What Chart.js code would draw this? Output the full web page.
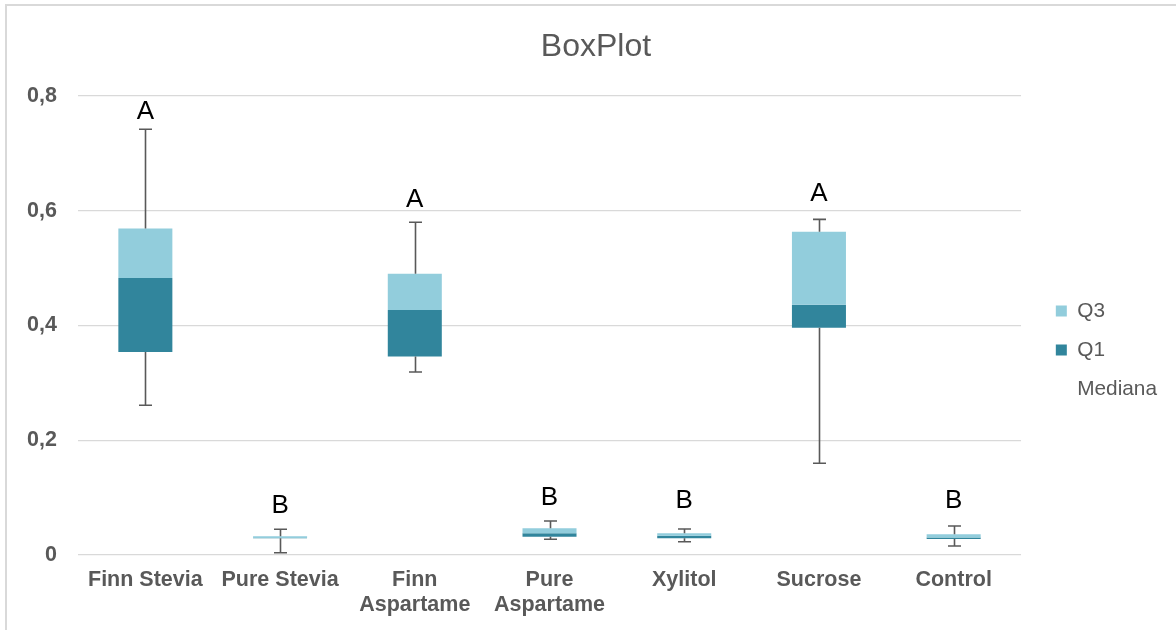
<!DOCTYPE html>
<html>
<head>
<meta charset="utf-8">
<script src="https://cdn.jsdelivr.net/npm/chart.js@4/dist/chart.umd.min.js"></script>
<style>
  html, body { margin: 0; padding: 0; background: #fff; }
  #wrap { width: 1176px; height: 630px; position: relative; }
</style>
</head>
<body>
<div id="wrap"><canvas id="c" width="1176" height="630"></canvas></div>
<script>
// ---- data ----
const categories = ['Finn Stevia', 'Pure Stevia', ['Finn', 'Aspartame'], ['Pure', 'Aspartame'], 'Xylitol', 'Sucrose', 'Control'];
const mins    = [0.261, 0.004, 0.319, 0.0274, 0.0232, 0.160, 0.0157];
const q1      = [0.354, 0.029, 0.346, 0.0319, 0.0290, 0.396, 0.0279];
const medians = [0.483, 0.0295, 0.427, 0.0378, 0.0336, 0.436, 0.0305];
const q3      = [0.569, 0.0325, 0.490, 0.0465, 0.0378, 0.5635, 0.0360];
const maxs    = [0.742, 0.0448, 0.580, 0.0593, 0.0453, 0.585, 0.0505];
const groupLetters = ['A', 'B', 'A', 'B', 'B', 'A', 'B'];
const letterValues = [0.760, 0.0727, 0.607, 0.0871, 0.0813, 0.6175, 0.0813];
const yTickLabels = ['0', '0,2', '0,4', '0,6', '0,8'];
const seriesNames = ['Q3', 'Q1', 'Mediana'];

const FONT = '"Liberation Sans", Arial, Helvetica, sans-serif';
const GREY = '#595959';
const LIGHT = '#92CDDC';
const DARK = '#31859C';

const borderPlugin = {
  id: 'outerBorder',
  beforeDraw(chart) {
    const ctx = chart.ctx;
    ctx.save();
    ctx.fillStyle = '#fff';
    ctx.fillRect(0, 0, chart.width, chart.height);
    ctx.strokeStyle = '#d9d9d9';
    ctx.lineWidth = 2;
    ctx.strokeRect(6, 5, chart.width + 40, chart.height + 40);
    ctx.restore();
  }
};

const whiskerPlugin = {
  id: 'whiskers',
  afterDatasetsDraw(chart) {
    const ctx = chart.ctx;
    const meta = chart.getDatasetMeta(1);
    const ys = chart.scales.y;
    ctx.save();
    ctx.strokeStyle = GREY;
    ctx.lineWidth = 1.6;
    const cap = 6.5;
    meta.data.forEach((bar, i) => {
      const x = Math.round(bar.x) + 0.5;
      const segs = [[q3[i], maxs[i]], [q1[i], mins[i]]];
      segs.forEach(([from, to]) => {
        const y0 = ys.getPixelForValue(from);
        const y1 = ys.getPixelForValue(to);
        ctx.beginPath();
        ctx.moveTo(x, y0);
        ctx.lineTo(x, y1);
        ctx.moveTo(x - cap, y1);
        ctx.lineTo(x + cap, y1);
        ctx.stroke();
      });
    });
    // group letters
    ctx.fillStyle = '#000';
    ctx.font = '26px ' + FONT;
    ctx.textAlign = 'center';
    ctx.textBaseline = 'alphabetic';
    meta.data.forEach((bar, i) => {
      ctx.fillText(groupLetters[i], bar.x, ys.getPixelForValue(letterValues[i]));
    });
    ctx.restore();
  }
};

new Chart(document.getElementById('c'), {
  type: 'bar',
  data: {
    labels: categories,
    datasets: [
      {
        label: seriesNames[0],
        data: medians.map((m, i) => [m, q3[i]]),
        backgroundColor: LIGHT,
        borderWidth: 0,
        grouped: false,
        barPercentage: 0.401,
        categoryPercentage: 1
      },
      {
        label: seriesNames[1],
        data: q1.map((v, i) => [v, medians[i]]),
        backgroundColor: DARK,
        borderWidth: 0,
        grouped: false,
        barPercentage: 0.401,
        categoryPercentage: 1
      },
      {
        label: seriesNames[2],
        data: medians,
        backgroundColor: 'rgba(0,0,0,0)',
        borderColor: 'rgba(0,0,0,0)',
        borderWidth: 0,
        grouped: false,
        barPercentage: 0.401,
        categoryPercentage: 1
      }
    ]
  },
  options: {
    responsive: false,
    animation: false,
    devicePixelRatio: 1,
    layout: { padding: { left: 25, right: 9, top: 0, bottom: 0 } },
    plugins: {
      tooltip: { enabled: false },
      title: {
        display: true,
        text: 'BoxPlot',
        color: GREY,
        font: { family: FONT, size: 32, weight: 'normal', lineHeight: 1.2 },
        padding: { top: 28, bottom: 29.6 }
      },
      legend: {
        display: true,
        position: 'right',
        align: 'center',
        title: { display: true, text: '', font: { size: 10, lineHeight: 1.2 }, padding: { top: 58, bottom: 0 } },
        labels: {
          color: GREY,
          font: { family: FONT, size: 20.8 },
          boxWidth: 11,
          boxHeight: 11,
          padding: 18.2
        }
      }
    },
    scales: {
      x: {
        grid: { display: false, drawTicks: false },
        border: { display: false },
        ticks: {
          color: GREY,
          font: { family: FONT, size: 21.5, weight: 'bold', lineHeight: 1.163 },
          padding: 12.5,
          maxRotation: 0,
          autoSkip: false
        },
        afterFit(s) { s.height = 75; }
      },
      y: {
        min: 0,
        max: 0.8,
        grid: { color: '#d9d9d9', lineWidth: 1.3, drawTicks: false },
        border: { display: false },
        ticks: {
          stepSize: 0.2,
          color: GREY,
          font: { family: FONT, size: 21.5, weight: 'bold' },
          padding: 21,
          callback: (v, i) => yTickLabels[i]
        },
        afterFit(s) { s.width = 53; }
      },
      yR: {
        position: 'right',
        display: true,
        grid: { display: false, drawTicks: false },
        border: { display: false },
        ticks: { display: false },
        afterFit(s) { s.width = 16.6; }
      }
    }
  },
  plugins: [borderPlugin, whiskerPlugin]
});
</script>
</body>
</html>
